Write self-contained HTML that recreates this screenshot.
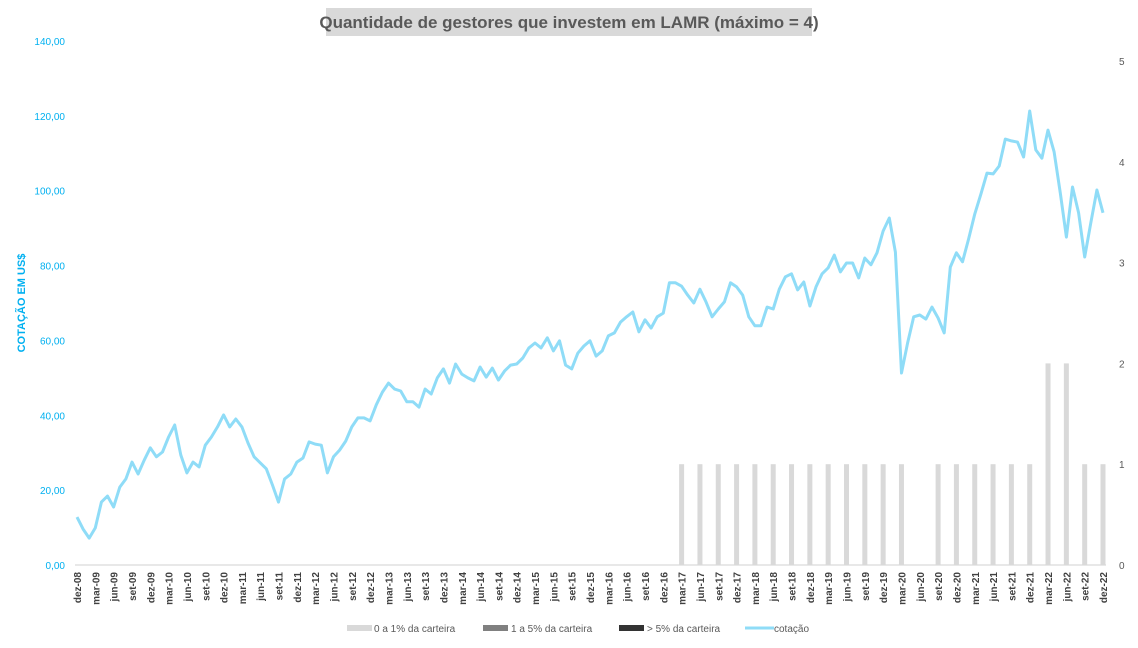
<!DOCTYPE html>
<html><head><meta charset="utf-8"><style>
html,body{margin:0;padding:0;background:#fff;}
svg text{font-family:"Liberation Sans",sans-serif;}
</style></head><body>
<svg width="1138" height="643" viewBox="0 0 1138 643">
<rect x="326" y="8" width="486" height="28" fill="#d9d9d9"/>
<text x="569" y="28" text-anchor="middle" font-size="17" font-weight="bold" fill="#595959">Quantidade de gestores que investem em LAMR (máximo = 4)</text>
<text transform="translate(25,303) rotate(-90)" text-anchor="middle" font-size="11" font-weight="bold" fill="#00b0f0">COTAÇÃO EM US$</text>
<g id="leftTicks"></g>
<g id="rightTicks"></g>
<line x1="75" y1="565" x2="1106" y2="565" stroke="#d0d0d0" stroke-width="1"/>
<g id="bars"></g>
<polyline id="line" fill="none" stroke="#8fdcf7" stroke-width="3" stroke-linejoin="round"/>
<g id="xlabels"></g>
<g>
<rect x="347" y="625" width="25" height="6" fill="#d9d9d9"/>
<text x="374" y="632" font-size="10" fill="#595959">0 a 1% da carteira</text>
<rect x="483" y="625" width="25" height="6" fill="#808080"/>
<text x="511" y="632" font-size="10" fill="#595959">1 a 5% da carteira</text>
<rect x="619" y="625" width="25" height="6" fill="#333"/>
<text x="647" y="632" font-size="10" fill="#595959">&gt; 5% da carteira</text>
<line x1="745" y1="628" x2="774" y2="628" stroke="#8fdcf7" stroke-width="3"/>
<text x="774" y="632" font-size="10" fill="#595959">cotação</text>
</g>
</svg>
<script>
const prices=[12.8,9.6,7.2,9.9,16.8,18.4,15.5,20.8,23,27.5,24.3,28,31.3,28.9,30.2,34.2,37.4,29.4,24.6,27.5,26.2,32,34.2,36.9,40.1,36.9,39,36.9,32.6,28.9,27.3,25.7,21.4,16.8,23,24.3,27.5,28.6,32.9,32.3,32,24.6,28.9,30.7,33.1,36.9,39.3,39.3,38.5,42.8,46.2,48.6,47,46.5,43.6,43.6,42.2,
47.0,45.7,50.0,52.4,48.6,53.7,51.0,50.0,49.2,52.9,50.2,52.6,49.4,51.8,53.4,53.7,55.3,58.0,59.3,58.0,60.7,57.2,59.9,53.4,52.4,56.6,58.5,59.9,55.8,57.2,61.2,62.0,64.9,66.3,67.6,62.3,65.5,63.3,66.3,67.3,75.4,75.4,74.5,72.1,70.0,73.7,70.3,66.3,68.4,70.3,75.4,74.3,72.1,66.3,63.9,63.9,
68.9,68.4,73.7,77.0,77.8,73.5,75.6,69.2,74.3,77.8,79.4,82.8,78.3,80.7,80.7,76.7,82.0,80.2,83.4,89.2,92.7,83.6,51.3,59.3,66.3,66.8,65.7,68.9,66.0,62.0,79.6,83.4,81.0,87.1,93.8,99.1,104.7,104.5,106.6,113.8,113.3,113.0,109.0,121.3,110.9,108.7,116.2,110.4,99.4,87.6,101.0,94.1,82.3,91.4,100.2,94.1];
const quarterLabels=[];
const months=["dez","mar","jun","set"];
for(let q=0;q<=56;q++){const yr=8+Math.floor((q+3)/4);quarterLabels.push(months[q%4]+"-"+String(yr).padStart(2,"0"));}
const managers=[0,0,0,0,0,0,0,0,0,0,0,0,0,0,0,0,0,0,0,0,0,0,0,0,0,0,0,0,0,0,0,0,0,1,1,1,1,1,1,1,1,1,1,1,1,1,0,1,1,1,1,1,1,2,2,1,1];
const leftTickVals=[0,20,40,60,80,100,120,140];
const rightTickVals=[0,1,2,3,4,5];
const NS="http://www.w3.org/2000/svg";
const x0=77,x1=1103,yb=565,yt=41,yr5=61;
const xM=i=>x0+(x1-x0)*i/168;
const yL=v=>yb-(yb-yt)*v/140;
const yR=v=>yb-(yb-yr5)*v/5;
function mk(t,a,p){const e=document.createElementNS(NS,t);for(const k in a)e.setAttribute(k,a[k]);p.appendChild(e);return e;}
const lt=document.getElementById('leftTicks');
leftTickVals.forEach(v=>{const t=mk('text',{x:65,y:yL(v)+4,'text-anchor':'end','font-size':'10',fill:'#00b0f0'},lt);t.textContent=v.toFixed(2).replace('.',',');

});
const rt=document.getElementById('rightTicks');
rightTickVals.forEach(v=>{const t=mk('text',{x:1119,y:yR(v)+4,'font-size':'10',fill:'#595959'},rt);t.textContent=v;

});
const bg=document.getElementById('bars');
managers.forEach((v,q)=>{if(!v)return;const cx=xM(q*3);const r=mk('rect',{x:cx-2.5,y:yR(v),width:5,height:yb-yR(v),fill:'#d9d9d9'},bg);

});
document.getElementById('line').setAttribute('points',prices.map((v,i)=>xM(i).toFixed(1)+','+yL(v).toFixed(1)).join(' '));
const xl=document.getElementById('xlabels');
quarterLabels.forEach((s,q)=>{const cx=xM(q*3);const t=mk('text',{transform:`translate(${cx+4},572) rotate(-90)`,'text-anchor':'end','font-size':'10',fill:'#404040','font-weight':'bold'},xl);t.textContent=s;

});
</script>
</body></html>
